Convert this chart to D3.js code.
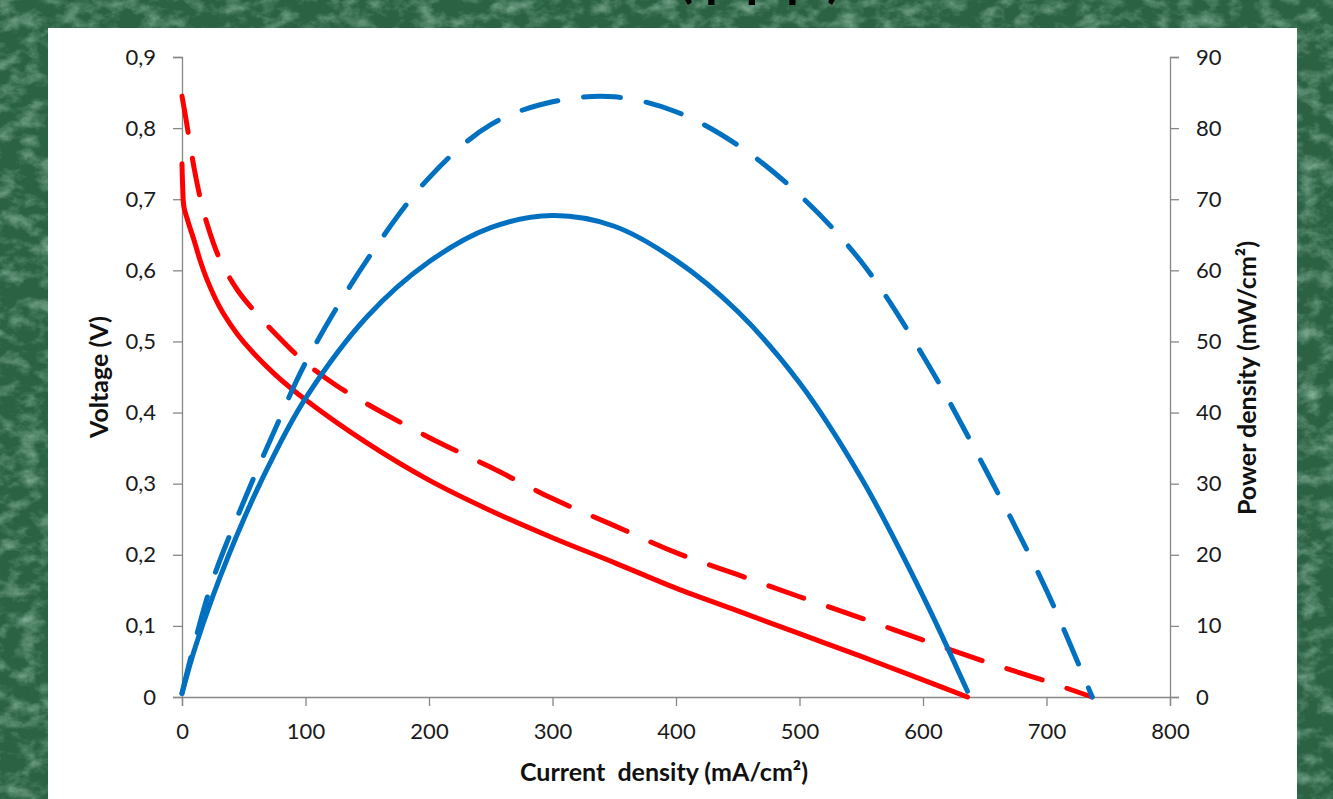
<!DOCTYPE html>
<html>
<head>
<meta charset="utf-8">
<script src="https://cdn.jsdelivr.net/npm/d3@7"></script>
<style>
  body { margin: 0; overflow: hidden; background: #2a6243; }
  svg text { font-family: Lato, "Open Sans", sans-serif; }
</style>
</head>
<body>
<div id="my_dataviz"></div>
<script>
// data
const currentSolid = [0, 0.5, 1.5, 5, 10, 15, 20, 30, 40, 50, 75, 100, 150, 200, 250, 300, 350, 400, 450, 500, 550, 600, 636];
const voltageSolid = [0.75, 0.72, 0.69, 0.668, 0.641, 0.612, 0.588, 0.55, 0.522, 0.499, 0.454, 0.418, 0.357, 0.305, 0.262, 0.224, 0.189, 0.153, 0.121, 0.089, 0.057, 0.024, 0];

const currentDashed = [0, 3, 6, 10, 15, 20, 30, 45, 60, 80, 100, 125, 150, 200, 250, 300, 350, 400, 450, 500, 550, 600, 650, 700, 737];
const voltageDashed = [0.845, 0.815, 0.783, 0.742, 0.70, 0.667, 0.618, 0.572, 0.54, 0.503, 0.47, 0.438, 0.412, 0.365, 0.323, 0.279, 0.241, 0.203, 0.172, 0.141, 0.111, 0.08, 0.05, 0.022, 0];

const currentPowerSolid = [0, 10, 25, 50, 75, 100, 150, 200, 250, 300, 350, 400, 450, 500, 550, 600, 636];
const powerSolid = [0.5, 6.6, 14.2, 25, 34.2, 42, 53.5, 61.2, 66, 67.7, 66.2, 61.4, 54.2, 44.2, 30.8, 14.2, 0.8];

const currentPowerDashed = [0, 10, 25, 50, 75, 100, 150, 200, 250, 300, 350, 400, 450, 500, 550, 600, 650, 700, 737];
const powerDashed = [0.5, 7.5, 16.5, 27.5, 37.5, 47, 61.5, 73, 80.5, 83.7, 84.4, 82.3, 77.6, 70.6, 61.2, 48, 32.2, 15, 0];

const xTicks = [0, 100, 200, 300, 400, 500, 600, 700, 800];
const voltageTicks = [0, 0.1, 0.2, 0.3, 0.4, 0.5, 0.6, 0.7, 0.8, 0.9];
const voltageTickLabels = ["0", "0,1", "0,2", "0,3", "0,4", "0,5", "0,6", "0,7", "0,8", "0,9"];
const powerTicks = [0, 10, 20, 30, 40, 50, 60, 70, 80, 90];

// set the dimensions and margins of the graph
const W = 1333, H = 799;
const margin = {top: 57, right: 163, bottom: 102, left: 182},
    width = W - margin.left - margin.right,
    height = H - margin.top - margin.bottom;

const root = d3.select("#my_dataviz")
  .append("svg")
    .attr("width", W)
    .attr("height", H);

// green marble background
const defs = root.append("defs");
const marble = defs.append("filter").attr("id", "marble")
    .attr("x", 0).attr("y", 0).attr("width", 1).attr("height", 1);
marble.append("feTurbulence")
    .attr("type", "fractalNoise")
    .attr("baseFrequency", "0.05 0.07")
    .attr("numOctaves", 5)
    .attr("seed", 11);
marble.append("feColorMatrix")
    .attr("type", "matrix")
    .attr("values", "0 0 0 0 0.32  0 0 0 0 0.56  0 0 0 0 0.42  1.4 0 0 0 -0.6");

root.append("rect").attr("width", W).attr("height", H).attr("fill", "#2a6243");
root.append("rect").attr("width", W).attr("height", H).attr("filter", "url(#marble)");

// title, mostly above the visible area
root.append("text")
    .attr("x", 760).attr("y", -3)
    .attr("text-anchor", "middle")
    .attr("font-size", 50)
    .attr("font-weight", "bold")
    .attr("fill", "#000")
    .text("( p p p )");

// white chart panel
root.append("rect")
    .attr("x", 48).attr("y", 28)
    .attr("width", 1249).attr("height", H)
    .attr("fill", "#ffffff");

const svg = root.append("g")
    .attr("transform", `translate(${margin.left},${margin.top})`);

const x = d3.scaleLinear().domain([0, 800]).range([0, width]);
const yV = d3.scaleLinear().domain([0, 0.9]).range([height, 0]);
const yP = d3.scaleLinear().domain([0, 90]).range([height, 0]);

function styleAxis(g) {
  g.selectAll("path, line").attr("stroke", "#878787").attr("stroke-width", 1.3);
  g.selectAll("text").attr("font-size", 22).attr("fill", "#1a1a1a")
    .style("font-family", "Lato, 'Open Sans', sans-serif");
}

// X axis
svg.append("g")
    .attr("transform", `translate(0, ${height})`)
    .call(d3.axisBottom(x).tickValues(xTicks).tickSize(9).tickSizeOuter(9).tickPadding(17))
    .call(styleAxis);

// left Y axis
svg.append("g")
    .call(d3.axisLeft(yV).tickValues(voltageTicks).tickSize(9).tickSizeOuter(9).tickPadding(17)
      .tickFormat((d, i) => voltageTickLabels[i]))
    .call(styleAxis);

// right Y axis
svg.append("g")
    .attr("transform", `translate(${width},0)`)
    .call(d3.axisRight(yP).tickValues(powerTicks).tickSize(9).tickSizeOuter(9).tickPadding(17))
    .call(styleAxis);

// axis titles
svg.append("text")
    .attr("x", width / 2 - 12).attr("y", height + 84)
    .attr("text-anchor", "middle")
    .attr("font-size", 25).attr("font-weight", "bold").attr("fill", "#111")
    .style("white-space", "pre")
    .text("Current  density (mA/cm²)");

svg.append("text")
    .attr("transform", `translate(${100 - margin.left + 8},${377 - margin.top}) rotate(-90)`)
    .attr("text-anchor", "middle")
    .attr("font-size", 25).attr("font-weight", "bold").attr("fill", "#111")
    .text("Voltage (V)");

svg.append("text")
    .attr("transform", `translate(${1248 - margin.left + 8},${378 - margin.top}) rotate(-90)`)
    .attr("text-anchor", "middle")
    .attr("font-size", 25).attr("font-weight", "bold").attr("fill", "#111")
    .text("Power density (mW/cm²)");

// curves
const lineV = d3.line().x(d => x(d[0])).y(d => yV(d[1])).curve(d3.curveCatmullRom.alpha(0.5));
const lineP = d3.line().x(d => x(d[0])).y(d => yP(d[1])).curve(d3.curveCatmullRom.alpha(0.5));

const series = [
  {pts: d3.zip(currentSolid, voltageSolid), line: lineV, color: "#ff0000", dash: null},
  {pts: d3.zip(currentDashed, voltageDashed), line: lineV, color: "#ff0000", dash: "37,26"},
  {pts: d3.zip(currentPowerSolid, powerSolid), line: lineP, color: "#0070c0", dash: null},
  {pts: d3.zip(currentPowerDashed, powerDashed), line: lineP, color: "#0070c0", dash: "37,26"}
];

svg.selectAll("path.curve")
  .data(series)
  .join("path")
    .attr("class", "curve")
    .attr("d", d => d.line(d.pts))
    .attr("fill", "none")
    .attr("stroke", d => d.color)
    .attr("stroke-width", 5)
    .attr("stroke-linecap", "round")
    .attr("stroke-linejoin", "round")
    .attr("stroke-dasharray", d => d.dash);
</script>
</body>
</html>
